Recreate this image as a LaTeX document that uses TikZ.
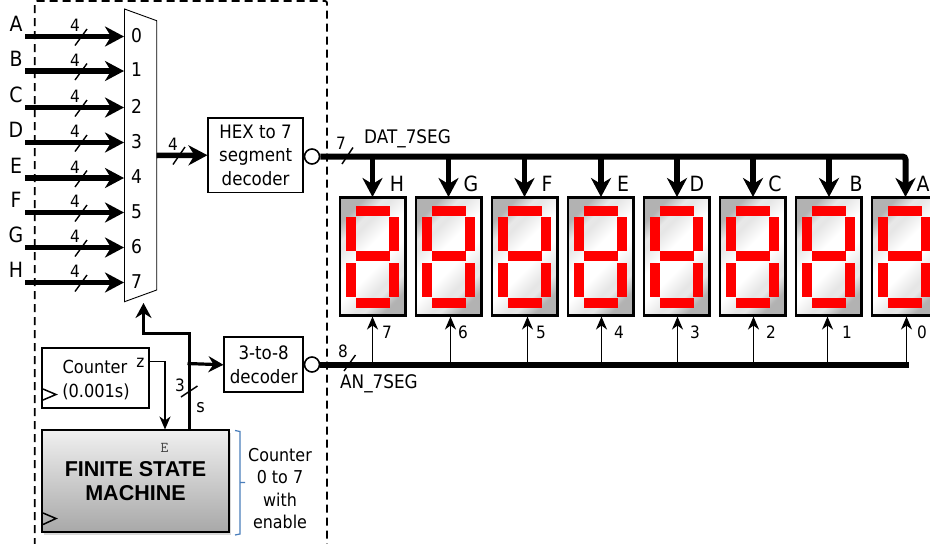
\documentclass[tikz,border=0pt]{standalone}
\usepackage{fontspec}
\setmainfont[FakeStretch=0.9]{DejaVu Sans}
\newfontfamily\boldf{Liberation Sans Bold}
\usetikzlibrary{arrows.meta,shadows,calc}
\definecolor{segred}{RGB}{255,0,0}
\definecolor{bracecol}{RGB}{74,126,187}
\pgfdeclareverticalshading{dispshade}{100bp}{
  color(0bp)=(black!30); color(33bp)=(black!30); color(38bp)=(black!9); color(40bp)=(black!10); color(46.5bp)=(white);
  color(53.5bp)=(white); color(60bp)=(black!10); color(62bp)=(black!9); color(67bp)=(black!30); color(100bp)=(black!30)}
\tikzset{
  lbl/.style={inner sep=0pt,font=\fontsize{19}{19}\selectfont},
  big/.style={inner sep=0pt,font=\fontsize{21}{21}\selectfont},
  small/.style={inner sep=0pt,font=\fontsize{17}{17}\selectfont},
  wire label/.style={inner sep=0pt,font=\fontsize{18.7}{18.7}\selectfont},
  boxtxt/.style={draw,line width=1.8pt,align=center,inner sep=0pt,fill=white,font=\fontsize{18.5}{23.5}\selectfont},
  thick bus/.style={line width=5.5pt,-{Stealth[length=19pt,width=20pt,inset=6pt]}},
  bus/.style={line width=6pt},
  mid bus/.style={line width=3.2pt,-{Stealth[length=15pt,width=16pt,inset=5pt]}},
  thin arrow/.style={line width=1.5pt,-{Stealth[length=13pt,width=11pt,inset=4pt]}},
  slash/.style={line width=1.4pt},
  bubble/.style={circle,draw,line width=1.6pt,fill=white,minimum size=15pt,inner sep=0pt},
  seg/.style={fill=segred,draw=none},
  clk/.style={line width=1.5pt},
}
\begin{document}
\begin{tikzpicture}[x=1pt,y=-1pt]
\useasboundingbox (0,0) rectangle (930,544);
\clip (0,0) rectangle (930,544);
\fill[white] (0,0) rectangle (930,544);
% dashed region
\coordinate (dl) at (34.7,546);
\coordinate (dr) at (327,546);
\draw[line width=1.8pt,dash pattern=on 8pt off 5pt,rounded corners=2pt] (dl) -- (34.7,1) -- (327,1) -- (dr);
% mux
\draw[line width=0.9pt,fill=white] (124.5,9) coordinate (mt) -- (156.7,20.7) -- (156.7,290) -- (124.5,301.7) -- cycle;
\coordinate (muxout) at (156.7,155.5);
% inputs
\foreach \l/\d/\yy/\i in {A/0/36.5/0,B/1/71/1,C/2/107.5/2,D/3/142.5/3,E/4/178/4,F/5/212.5/5,G/6/247.5/6,H/7/282.5/7}{
  \coordinate (in\i) at (25,\yy);
  \coordinate (mx\i) at (124,\yy);
  \draw[thick bus] (in\i) -- (mx\i);
  \draw[slash] ($(in\i)+(50,9)$) -- ($(in\i)+(62,-7.5)$);
  \node[small] (n\i) at ($(in\i)+(50,-11)$) {4};
  \node[big] (L\i) at ($(in\i)+(-9,-12.5)$) {\l};
  \node[lbl] (d\i) at ($(mx\i)+(12.5,-1)$) {\d};
}
% hex decoder
\node[boxtxt,minimum width=94.5pt,minimum height=74.5pt] (hex) at (255.6,155.2) {HEX to 7\\segment\\decoder};
\draw[thick bus] (muxout) -- (hex.west);
\draw[slash] (173,164.5) -- (185,147);
\node[small] (n4) at (173,144) {4};
% DAT bus
\node[bubble] (b1) at (312,156.5) {};
\coordinate (dat end) at (905.5,197);
\draw[bus,rounded corners=3pt,-{Stealth[length=19pt,width=20pt,inset=6pt]}] (b1.east) -- (905.5,156.5) -- (dat end);
\foreach \x in {372.5,448.5,524.5,601,677,753,829}{
  \draw[thick bus] (\x,156.5) -- (\x,197);
}
\draw[slash] (342,164) -- (353,147.5);
\node[small] (n7) at (341,143) {7};
\node[wire label,anchor=west] (datl) at (364,139) {DAT\_7SEG};
% displays
\foreach \i/\ll/\lx in {0/H/397,1/G/471,2/F/547,3/E/623,4/D/697,5/C/775,6/B/856,7/A/923}{
  \pgfmathsetmacro{\xo}{340+76*\i}
  \begin{scope}[shift={(\xo,0)}]
    \begin{scope}
      \clip (0,197) rectangle (66,316);
      \shade[shading=dispshade,shading angle=45] (-37,186.5) rectangle (103,326.5);
    \end{scope}
    \draw[line width=2.4pt] (0,197.5) rectangle (65.5,315.5);
    \fill[seg] (16,206) rectangle (50,215.7);
    \fill[seg] (6,217) rectangle (16,250.7);
    \fill[seg] (49,217) rectangle (59,250.7);
    \fill[seg] (16,251) rectangle (50,261);
    \fill[seg] (6,262.7) rectangle (16,296.7);
    \fill[seg] (49,262.7) rectangle (59,296.7);
    \fill[seg] (16,298) rectangle (50,308);
  \end{scope}
  \node[big] (S\i) at (\lx,184) {\ll};
}
% AN bus
\node[bubble] (b2) at (312,364.5) {};
\draw[bus] (b2.east) -- (909,364.5) coordinate (an end);
\foreach \x/\n/\tx in {372.5/7/387,450.5/6/463,527.5/5/541,601.5/4/619,677.5/3/695,753.5/2/771,827.5/1/847,906.5/0/922}{
  \draw[thin arrow] (\x,362) -- (\x,316.5);
  \node[small] at (\tx,332) {\n};
}
\draw[slash] (344,371) -- (355.5,355);
\node[small] (n8) at (343,351) {8};
\node[wire label,anchor=west] (anl) at (340,384) {AN\_7SEG};
% 3-to-8
\node[boxtxt,minimum width=78.7pt,minimum height=55pt] (dec) at (263.7,364.8) {3-to-8\\decoder};
% FSM
\node[draw,line width=2pt,minimum width=187pt,minimum height=101.5pt,inner sep=0pt,
  top color=black!6,bottom color=black!34,
  drop shadow={shadow xshift=2pt,shadow yshift=-3pt,opacity=0.3}] (fsm) at (135.5,480.8) {};
\node[inner sep=0pt,align=center,font=\boldf\fontsize{21.5}{24}\selectfont] (fsmt) at (135.5,481.5) {FINITE STATE\\MACHINE};
\node[inner sep=0pt,font=\ttfamily\fontsize{15}{15}\selectfont,text=black!75] (fsme) at (164.5,448) {E};
\draw[clk] (43,513) -- (56,518.5) -- (43,524.5);
% counter
\node[draw,line width=2pt,minimum width=107pt,minimum height=60pt,inner sep=0pt] (cnt) at (95.5,377.7) {};
\node[inner sep=0pt,font=\fontsize{18}{18}\selectfont] (cntt) at (95,367) {Counter};
\node[inner sep=0pt,font=\fontsize{18}{18}\selectfont] (cntb) at (96,391.5) {(0.001s)};
\node[small] (z) at (140.5,363) {z};
\draw[clk] (43,389) -- (56,394.5) -- (43,400);
\draw[line width=1.3pt,-{Stealth[length=13pt,width=11pt,inset=4pt]}] (149,361.5) -- (165,361.5) -- (165,429.5);
% select
\draw[line width=3.2pt,-{Stealth[length=15pt,width=16pt,inset=5pt]}] (189.7,430) -- (189.7,333.5) -- (143.5,333.5) -- (143.5,303);
\draw[mid bus] (187.5,363.5) -- (dec.west);
\draw[slash] (181,397) -- (197.5,386);
\node[small] (n3) at (180,385) {3};
\node[lbl,font=\fontsize{18}{18}\selectfont] (s) at (200.5,408) {s};
% brace
\draw[bracecol,line width=1.2pt] (235,430.5) -- (240,431.5) -- (240,482.5) -- (245,482.5) -- (240,482.5) -- (240,534) -- (235,535);
\node[align=center,inner sep=0pt,font=\fontsize{17.7}{22.5}\selectfont] (ctxt) at (280,488.5) {Counter\\0 to 7\\with\\enable};
\end{tikzpicture}
\end{document}
